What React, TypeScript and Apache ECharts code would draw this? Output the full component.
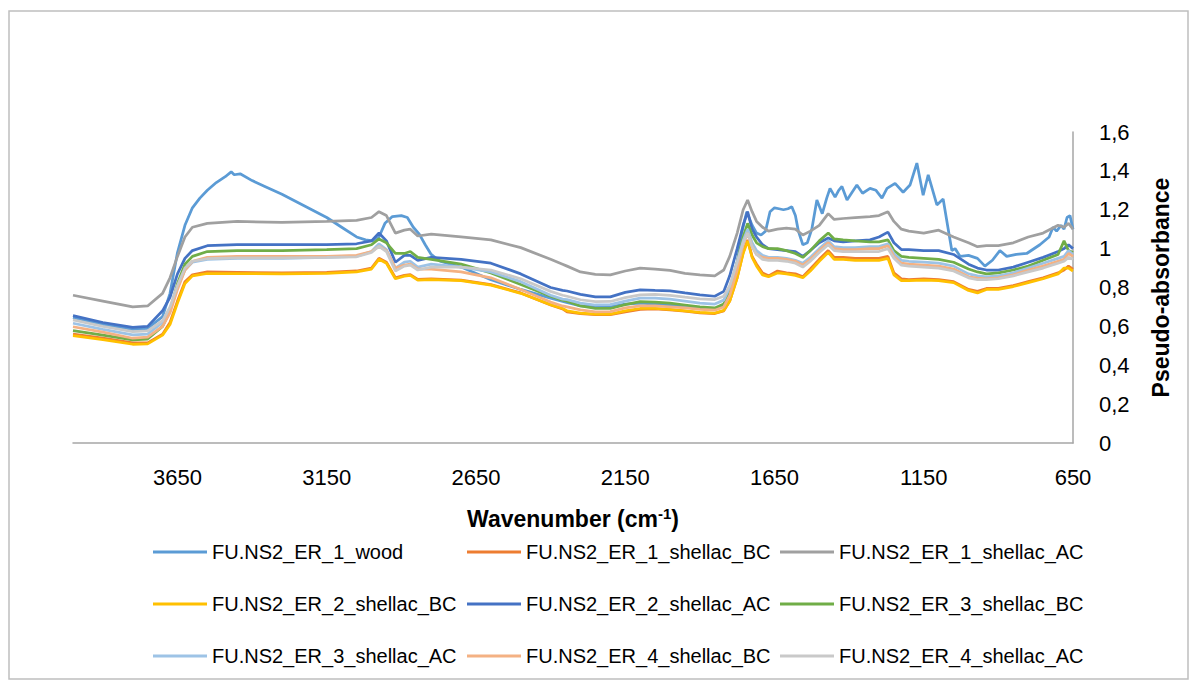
import React, { useEffect, useRef } from "react";
import * as echarts from "echarts";

// ---------------- DATA ----------------
const seriesNames = [
  "FU.NS2_ER_1_wood",
  "FU.NS2_ER_1_shellac_BC",
  "FU.NS2_ER_1_shellac_AC",
  "FU.NS2_ER_2_shellac_BC",
  "FU.NS2_ER_2_shellac_AC",
  "FU.NS2_ER_3_shellac_BC",
  "FU.NS2_ER_3_shellac_AC",
  "FU.NS2_ER_4_shellac_BC",
  "FU.NS2_ER_4_shellac_AC",
];

const xTickLabels = [3650, 3150, 2650, 2150, 1650, 1150, 650];
const yTickValues = [0, 0.2, 0.4, 0.6, 0.8, 1, 1.2, 1.4, 1.6];

// wavenumbers (cm-1) for the wood spectrum
const wnWood = [
  4000, 3900, 3800, 3750, 3700, 3675, 3650, 3625, 3600, 3575,
  3550, 3520, 3490, 3470, 3460, 3440, 3400, 3350, 3300, 3250,
  3200, 3150, 3100, 3050, 3020, 2995, 2975, 2955, 2930, 2900,
  2880, 2860, 2840, 2820, 2800, 2770, 2700, 2600, 2500, 2400,
  2350, 2300, 2250, 2200, 2150, 2100, 2050, 2000, 1950, 1900,
  1850, 1820, 1800, 1775, 1760, 1743, 1725, 1710, 1695, 1680,
  1665, 1650, 1635, 1620, 1605, 1592, 1580, 1570, 1555, 1540,
  1525, 1508, 1490, 1475, 1464, 1447, 1435, 1424, 1407, 1390,
  1374, 1355, 1330, 1310, 1290, 1273, 1246, 1219, 1196, 1173,
  1152, 1135, 1106, 1085, 1068, 1056, 1045, 1028, 1000, 970,
  945, 920, 895, 872, 840, 805, 761, 730, 717, 705,
  690, 680, 670, 660, 650,
];
const wood = [
  0.645, 0.61, 0.585, 0.59, 0.65, 0.77, 0.98, 1.12, 1.21, 1.26,
  1.3, 1.34, 1.37, 1.395, 1.38, 1.385, 1.35, 1.315, 1.28, 1.24,
  1.2, 1.16, 1.11, 1.06, 1.045, 1.04, 1.06, 1.13, 1.165, 1.17,
  1.16, 1.11, 1.075, 1.02, 0.97, 0.935, 0.905, 0.84, 0.79, 0.745,
  0.725, 0.705, 0.7, 0.7, 0.715, 0.72, 0.715, 0.71, 0.7, 0.695,
  0.69, 0.71, 0.78, 0.93, 1.08, 1.19, 1.12, 1.08, 1.07, 1.09,
  1.19, 1.21, 1.205, 1.2, 1.205, 1.215, 1.17, 1.09, 1.02, 1.03,
  1.1, 1.25, 1.18, 1.26, 1.31, 1.265, 1.3, 1.32, 1.25, 1.29,
  1.327, 1.285, 1.31, 1.3, 1.26, 1.31, 1.336, 1.29, 1.327, 1.44,
  1.275, 1.38, 1.225, 1.255, 1.1, 0.99, 1.0, 0.96, 0.965, 0.95,
  0.91, 0.94, 0.99, 0.96, 0.97, 0.975, 1.02, 1.06, 1.11, 1.09,
  1.12, 1.1, 1.16, 1.17, 1.1,
];

// wavenumbers (cm-1) for the shellac spectra
const wnShellac = [
  4000, 3900, 3800, 3750, 3700, 3675, 3650, 3625, 3600, 3550,
  3450, 3300, 3150, 3050, 3000, 2975, 2950, 2920, 2890, 2870,
  2845, 2800, 2700, 2600, 2500, 2400, 2360, 2345, 2300, 2250,
  2200, 2150, 2100, 2050, 2000, 1950, 1900, 1850, 1820, 1800,
  1775, 1755, 1740, 1725, 1710, 1690, 1670, 1640, 1610, 1580,
  1555, 1530, 1500, 1470, 1450, 1420, 1380, 1330, 1300, 1270,
  1250, 1225, 1200, 1150, 1100, 1050, 1000, 970, 940, 900,
  850, 800, 750, 700, 680, 665, 650,
];

const er1BC = [
  0.56, 0.54, 0.515, 0.515, 0.56, 0.62, 0.73, 0.83, 0.865, 0.88,
  0.878, 0.875, 0.878, 0.885, 0.9, 0.95, 0.93, 0.85, 0.862, 0.866,
  0.842, 0.845, 0.838, 0.815, 0.772, 0.71, 0.69, 0.675, 0.665, 0.66,
  0.66, 0.675, 0.688, 0.69, 0.685, 0.678, 0.67, 0.666, 0.68, 0.73,
  0.85, 0.98, 1.045, 0.96, 0.92, 0.875, 0.86, 0.885, 0.875, 0.87,
  0.855, 0.895, 0.945, 0.99, 0.955, 0.955, 0.95, 0.95, 0.95, 0.96,
  0.875, 0.845, 0.84, 0.845, 0.84, 0.83, 0.79, 0.78, 0.795, 0.795,
  0.81, 0.83, 0.85, 0.875, 0.89, 0.91, 0.895,
];
const er1AC = [
  0.76, 0.73, 0.7, 0.705, 0.77, 0.85, 0.96, 1.06, 1.11, 1.13,
  1.14, 1.135, 1.14, 1.145, 1.16, 1.19, 1.17, 1.08, 1.095, 1.1,
  1.065, 1.075, 1.06, 1.045, 1.005, 0.945, 0.92, 0.91, 0.88, 0.868,
  0.865, 0.885, 0.9, 0.895, 0.888, 0.873, 0.865, 0.86, 0.89, 0.96,
  1.08, 1.2, 1.25, 1.19, 1.14, 1.11, 1.09, 1.1, 1.105, 1.1,
  1.07, 1.09, 1.12, 1.18, 1.15, 1.155, 1.16, 1.165, 1.17, 1.19,
  1.14, 1.1, 1.09, 1.08, 1.095, 1.06, 1.03, 1.01, 1.015, 1.015,
  1.03, 1.06, 1.08, 1.12, 1.11, 1.13, 1.1,
];
const er2BC = [
  0.552, 0.532, 0.508, 0.51, 0.555, 0.61, 0.72, 0.82, 0.86, 0.872,
  0.872, 0.87, 0.873, 0.88, 0.895, 0.945, 0.925, 0.845, 0.858, 0.862,
  0.838, 0.84, 0.835, 0.812, 0.77, 0.712, 0.692, 0.68, 0.668, 0.663,
  0.663, 0.68, 0.692, 0.693, 0.688, 0.68, 0.672, 0.668, 0.682, 0.73,
  0.85, 0.975, 1.04, 0.955, 0.91, 0.865, 0.855, 0.875, 0.87, 0.862,
  0.85, 0.885, 0.935, 0.98, 0.945, 0.945, 0.94, 0.94, 0.94, 0.95,
  0.865, 0.835, 0.835, 0.838, 0.835, 0.825, 0.785, 0.772, 0.79, 0.79,
  0.805, 0.825, 0.845, 0.87, 0.9, 0.9, 0.885,
];
const er2AC = [
  0.655, 0.62, 0.595, 0.6, 0.68, 0.75, 0.87, 0.95, 0.99, 1.015,
  1.02, 1.02, 1.02, 1.025, 1.04, 1.08, 1.04, 0.93, 0.965, 0.965,
  0.94, 0.955, 0.945, 0.925, 0.87, 0.8, 0.785, 0.782, 0.765, 0.752,
  0.752, 0.775, 0.788, 0.785, 0.783, 0.772, 0.762, 0.755, 0.78, 0.86,
  1.0, 1.12, 1.19, 1.1, 1.06, 1.02, 1.0, 0.995, 0.99, 0.985,
  0.96, 0.99, 1.03, 1.055, 1.04, 1.035, 1.04, 1.045, 1.06, 1.085,
  1.03, 0.995, 0.995, 0.99, 0.99, 0.97, 0.92, 0.9, 0.89, 0.89,
  0.905, 0.93, 0.955, 0.985, 1.0, 1.02, 1.0,
];
const er3BC = [
  0.578, 0.555, 0.53, 0.535, 0.6, 0.68, 0.82, 0.92, 0.96, 0.985,
  0.99, 0.99, 0.995, 1.0, 1.02, 1.05, 1.03, 0.975, 0.975, 0.985,
  0.955, 0.945, 0.92, 0.875, 0.815, 0.755, 0.735, 0.73, 0.705, 0.693,
  0.692, 0.712, 0.727, 0.725, 0.72, 0.71, 0.7, 0.695, 0.715, 0.79,
  0.93, 1.06, 1.13, 1.07, 1.03, 1.01, 1.0, 1.0, 0.99, 0.975,
  0.955, 0.99, 1.04, 1.08, 1.05, 1.045, 1.04, 1.035, 1.035, 1.045,
  0.99, 0.96, 0.955, 0.95, 0.945, 0.93, 0.895, 0.88, 0.87, 0.875,
  0.89, 0.91, 0.94, 0.97, 1.04, 0.99, 0.98,
];
const er3AC = [
  0.616, 0.585, 0.556, 0.56, 0.62, 0.69, 0.8, 0.89, 0.93, 0.945,
  0.95, 0.95, 0.955, 0.96, 0.985, 1.025, 0.995, 0.9, 0.93, 0.935,
  0.905, 0.92, 0.905, 0.88, 0.83, 0.76, 0.74, 0.738, 0.72, 0.71,
  0.712, 0.73, 0.745, 0.745, 0.74, 0.73, 0.72, 0.715, 0.735, 0.8,
  0.93, 1.04, 1.1, 1.03, 0.99, 0.965, 0.955, 0.955, 0.95, 0.94,
  0.925, 0.955, 1.0, 1.04, 1.01, 1.005, 1.005, 1.01, 1.01, 1.025,
  0.975, 0.94, 0.935, 0.93, 0.925, 0.91, 0.87, 0.86, 0.855, 0.86,
  0.875, 0.9, 0.925, 0.95, 0.96, 0.99, 0.97,
];
const er4BC = [
  0.598, 0.57, 0.539, 0.545, 0.6, 0.67, 0.79, 0.89, 0.935, 0.955,
  0.96, 0.96, 0.96, 0.965, 0.985, 1.012, 0.99, 0.9, 0.915, 0.92,
  0.895, 0.895, 0.88, 0.85, 0.79, 0.725, 0.705, 0.7, 0.685, 0.675,
  0.676, 0.695, 0.705, 0.705, 0.7, 0.695, 0.688, 0.683, 0.7, 0.76,
  0.89, 1.02, 1.08, 1.01, 0.97, 0.955, 0.95, 0.95, 0.945, 0.935,
  0.915, 0.945, 0.99, 1.03, 1.0, 0.995, 0.995, 1.0, 1.0, 1.015,
  0.96, 0.925, 0.92, 0.915, 0.91, 0.895, 0.855, 0.848, 0.845, 0.85,
  0.865, 0.89, 0.91, 0.935, 0.945, 0.975, 0.96,
];
const er4AC = [
  0.633, 0.6, 0.573, 0.577, 0.63, 0.7, 0.81, 0.9, 0.935, 0.948,
  0.952, 0.952, 0.955, 0.958, 0.98, 1.012, 0.985, 0.885, 0.91, 0.915,
  0.89, 0.905, 0.905, 0.89, 0.845, 0.78, 0.76, 0.755, 0.737, 0.727,
  0.728, 0.748, 0.762, 0.765, 0.76, 0.75, 0.742, 0.738, 0.755, 0.81,
  0.93, 1.03, 1.08, 1.01, 0.97, 0.945, 0.94, 0.94, 0.935, 0.925,
  0.905, 0.935, 0.98, 1.02, 0.99, 0.985, 0.985, 0.985, 0.985, 1.0,
  0.95, 0.915, 0.91, 0.905, 0.9, 0.885, 0.85, 0.84, 0.84, 0.845,
  0.86, 0.88, 0.9, 0.925, 0.935, 0.955, 0.945,
];

// ---------------- STYLE ----------------
const colors = [
  "#5B9BD5",
  "#ED7D31",
  "#A0A0A0",
  "#FFC000",
  "#4472C4",
  "#70AD47",
  "#9DC3E6",
  "#F4B183",
  "#C9C9C9",
];
const FONT = "'Liberation Sans', Arial, sans-serif";

function pairs(xs: number[], ys: number[]) {
  return xs.map((x, i) => [x, ys[i]]);
}

export default function App() {
  const ref = useRef<HTMLDivElement>(null);

  useEffect(() => {
    if (!ref.current) return;
    const chart = echarts.init(ref.current, null, { renderer: "svg" });

    const valueSets = [wood, er1BC, er1AC, er2BC, er2AC, er3BC, er3AC, er4BC, er4AC];
    const xSets = [wnWood, wnShellac, wnShellac, wnShellac, wnShellac, wnShellac, wnShellac, wnShellac, wnShellac];

    const series = seriesNames.map((name, i) => ({
      type: "line" as const,
      name,
      data: pairs(xSets[i], valueSets[i]),
      showSymbol: false,
      symbol: "none",
      silent: true,
      lineStyle: { width: 2.75, color: colors[i] },
      itemStyle: { color: colors[i] },
      emphasis: { disabled: true },
    }));

    const legendBase = {
      orient: "vertical" as const,
      icon: "rect",
      itemWidth: 54,
      itemHeight: 3,
      itemGap: 32,
      top: 537,
      selectedMode: false,
      textStyle: { fontFamily: FONT, fontSize: 20, color: "#000", lineHeight: 20 },
    };

    chart.setOption({
      animation: false,
      backgroundColor: "#fff",
      textStyle: { fontFamily: FONT },
      grid: { left: 73, right: 125, top: 132, bottom: 245, containLabel: false },
      xAxis: {
        type: "value",
        min: 650,
        max: 4000,
        inverse: true,
        axisLine: { show: true, lineStyle: { color: "#A6A6A6", width: 1.5 } },
        axisTick: { show: false },
        splitLine: { show: false },
        axisLabel: {
          customValues: xTickLabels,
          fontFamily: FONT,
          fontSize: 22,
          color: "#000",
          margin: 23,
          formatter: (v: number) => String(v),
        },
        name: "{b|Wavenumber (cm}{s|-1}{b|)}",
        nameLocation: "middle",
        nameGap: 63,
        nameTextStyle: {
          rich: {
            b: { fontFamily: FONT, fontSize: 23, fontWeight: "bold", color: "#000", lineHeight: 26 },
            s: { fontFamily: FONT, fontSize: 15, fontWeight: "bold", color: "#000", verticalAlign: "top", lineHeight: 26 },
          },
        },
      },
      yAxis: {
        type: "value",
        position: "right",
        min: 0,
        max: 1.6,
        interval: 0.2,
        axisLine: { show: true, lineStyle: { color: "#A6A6A6", width: 1.5 } },
        axisTick: { show: false },
        splitLine: { show: false },
        axisLabel: {
          customValues: yTickValues,
          fontFamily: FONT,
          fontSize: 22,
          color: "#000",
          margin: 26,
          formatter: (v: number) => String(+v.toFixed(1)).replace(".", ","),
        },
        name: "Pseudo-absorbance",
        nameLocation: "middle",
        nameRotate: 90,
        nameGap: 76,
        nameTextStyle: { fontFamily: FONT, fontSize: 23, fontWeight: "bold", color: "#000" },
      },
      legend: [
        { ...legendBase, left: 148, data: [seriesNames[0], seriesNames[3], seriesNames[6]] },
        { ...legendBase, left: 462, data: [seriesNames[1], seriesNames[4], seriesNames[7]] },
        { ...legendBase, left: 775, data: [seriesNames[2], seriesNames[5], seriesNames[8]] },
      ],
      graphic: [
        {
          type: "rect",
          silent: true,
          z: -1,
          shape: { x: 9, y: 11, width: 1179, height: 668 },
          style: { fill: "none", stroke: "#BFBFBF", lineWidth: 1.5 },
        },
      ],
      series,
    });

    return () => chart.dispose();
  }, []);

  return (
    <div
      ref={ref}
      style={{ position: "absolute", left: 0, top: 0, width: 1198, height: 688, background: "#fff" }}
    />
  );
}
